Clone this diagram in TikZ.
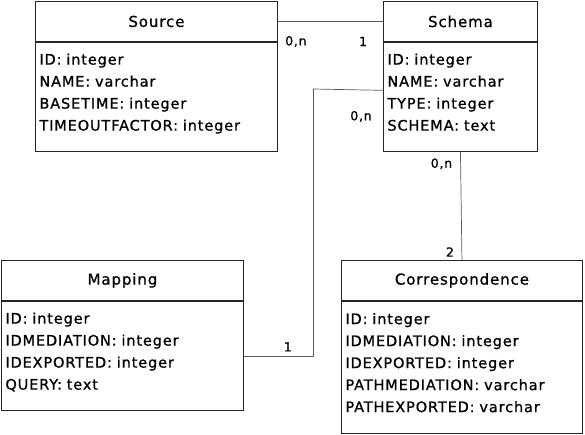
\documentclass[tikz,border=0pt]{standalone}
\usepackage{fontspec}
\setmainfont{DejaVu Sans}[LetterSpace=6,FakeBold=0.9]
\usetikzlibrary{positioning}

\begin{document}
\begin{tikzpicture}[x=1pt,y=-1pt,
		classtitle/.style={rectangle,draw=black!85,line width=0.9pt,inner sep=0pt,
			minimum width=#1,minimum height=40pt,font=\fontsize{15}{17}\selectfont},
		classbody/.style={rectangle,draw=black!85,line width=0.9pt,inner xsep=4pt,inner ysep=0pt,
			minimum width=#1,text width=#1-8pt,align=left,font=\fontsize{14.5}{22}\selectfont,
			execute at end node={\rule[-9.5pt]{0pt}{9.5pt}}},
		link/.style={draw=black!65,line width=0.7pt},
		cardlabel/.style={inner sep=0pt,font=\fontsize{12.5}{14}\selectfont}
		]
		\useasboundingbox (0,0) rectangle (585,435);

		% Source
		\node[classtitle=242pt, anchor=north west](SrcT) at (35,1){Source};
		\node[classbody=242pt, minimum height=109pt, below=0pt of SrcT](SrcB){ID: integer\\
			NAME: varchar\\ BASETIME: integer\\ TIMEOUTFACTOR: integer};

		% Schema
		\node[classtitle=154pt, anchor=north west](SchT) at (383,1){Schema};
		\node[classbody=154pt, minimum height=109pt, below=0pt of SchT](SchB){ID: integer\\
			NAME: varchar\\ TYPE: integer\\ SCHEMA: text};

		% Mapping
		\node[classtitle=242pt, anchor=north west](MapT) at (1,260){Mapping};
		\node[classbody=242pt, minimum height=109pt, below=0pt of MapT](MapB){ID: integer\\
			IDMEDIATION: integer\\ IDEXPORTED: integer\\ QUERY: text};

		% Correspondence
		\node[classtitle=241pt, anchor=north west](CorT) at (341,260){Correspondence};
		\node[classbody=241pt, minimum height=132pt, below=0pt of CorT](CorB){ID: integer\\
			IDMEDIATION: integer\\ IDEXPORTED: integer\\ PATHMEDIATION: varchar\\
			PATHEXPORTED: varchar};

		\coordinate (bend) at (313,89);

		\draw[link] (SrcT.east) -- (SchT.west)
		node[cardlabel, pos=0, xshift=18pt, yshift=-20pt]{0,n}
		node[cardlabel, pos=1, xshift=-20pt, yshift=-20pt]{1};
		\draw[link] ([yshift=6.5pt]SchB.west) -- (bend)
		node[cardlabel, pos=0, xshift=-22pt, yshift=-26pt]{0,n};
		\draw[link] (bend) |- (MapB.east)
		node[cardlabel, pos=1, xshift=44pt, yshift=9pt]{1};
		\draw[link] (SchB.south) -- (CorT.north)
		node[cardlabel, pos=0, xshift=-19pt, yshift=-12pt]{0,n}
		node[cardlabel, pos=1, xshift=-12pt, yshift=8pt]{2};
	\end{tikzpicture}
\end{document}
